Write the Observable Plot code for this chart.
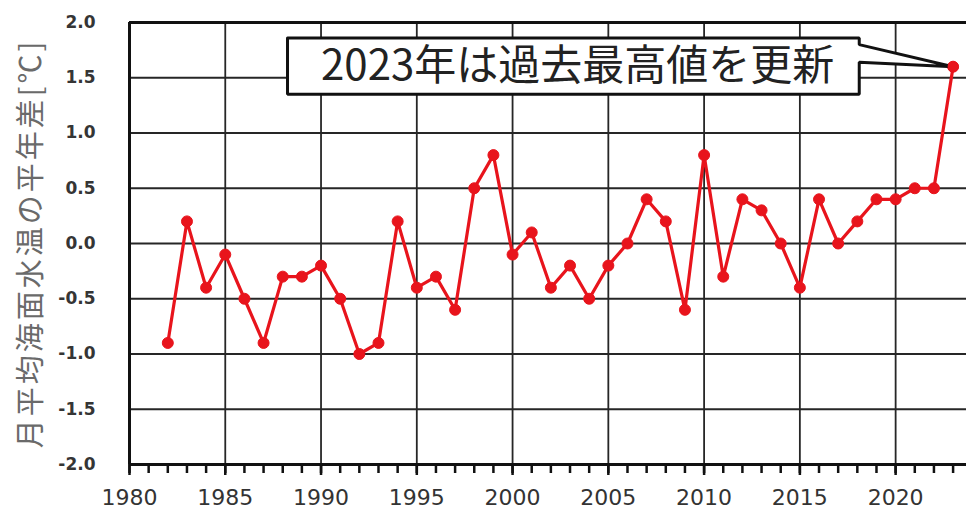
<!DOCTYPE html>
<html>
<head>
<meta charset="utf-8">
<script src="https://cdn.jsdelivr.net/npm/d3@7"></script>
<script src="https://cdn.jsdelivr.net/npm/@observablehq/plot@0.6"></script>
<style>
  html, body { margin: 0; padding: 0; background: #fff; }
</style>
</head>
<body>
<div id="chart"></div>
<script>
const years = [1982,1983,1984,1985,1986,1987,1988,1989,1990,1991,1992,1993,1994,1995,1996,1997,1998,1999,2000,2001,2002,2003,2004,2005,2006,2007,2008,2009,2010,2011,2012,2013,2014,2015,2016,2017,2018,2019,2020,2021,2022,2023];
const anomalies = [-0.9,0.2,-0.4,-0.1,-0.5,-0.9,-0.3,-0.3,-0.2,-0.5,-1.0,-0.9,0.2,-0.4,-0.3,-0.6,0.5,0.8,-0.1,0.1,-0.4,-0.2,-0.5,-0.2,0.0,0.4,0.2,-0.6,0.8,-0.3,0.4,0.3,0.0,-0.4,0.4,0.0,0.2,0.4,0.4,0.5,0.5,1.6];
const yTicks = [-2.0,-1.5,-1.0,-0.5,0.0,0.5,1.0,1.5,2.0];
const xTicks = [1980,1985,1990,1995,2000,2005,2010,2015,2020];
const minorTicks = d3.range(1980, 2024);
const yLabel = "月平均海面水温の平年差[℃]";
const calloutText = "2023年は過去最高値を更新";

const data = years.map((y, i) => ({year: y, value: anomalies[i]}));

// callout outline (annotation), in data units
const callout = [
  {x: 1988.25, y: 1.86}, {x: 2018.1, y: 1.86}, {x: 2018.1, y: 1.80},
  {x: 2023, y: 1.6},
  {x: 2018.1, y: 1.64}, {x: 2018.1, y: 1.35}, {x: 1988.25, y: 1.35}, {x: 1988.25, y: 1.86}
];

const red = "#e8141c";
const gridColor = "#262626";

const plot = Plot.plot({
  width: 966,
  height: 512,
  marginLeft: 129,
  marginRight: 0,
  marginTop: 22,
  marginBottom: 48,
  x: {domain: [1980, 2023.7]},
  y: {domain: [-2, 2]},
  style: {fontFamily: "DejaVu Sans, Verdana, sans-serif", background: "#fff", overflow: "hidden"},
  marks: [
    Plot.gridY(yTicks, {stroke: gridColor, strokeOpacity: 1, strokeWidth: 1.8}),
    Plot.gridX(xTicks, {stroke: gridColor, strokeOpacity: 1, strokeWidth: 1.8}),
    Plot.ruleX([1980], {stroke: "#111", strokeWidth: 3}),
    Plot.ruleY([2.0], {stroke: "#111", strokeWidth: 3}),
    Plot.ruleY([-2.0], {stroke: "#111", strokeWidth: 3}),
    Plot.axisY(yTicks, {
      tickSize: 0, tickPadding: 34, tickFormat: d => d.toFixed(1),
      fontSize: 17, fontWeight: "bold", fill: "#353535", label: null
    }),
    Plot.axisX(minorTicks, {tickSize: 9, tickFormat: () => "", strokeWidth: 2.5, stroke: "#111", label: null}),
    Plot.axisX(xTicks, {
      tickSize: 11, tickPadding: 14, strokeWidth: 2.5, stroke: "#111",
      tickFormat: d => String(d), fontSize: 22, fill: "#333", label: null
    }),
    Plot.text([yLabel], {
      frameAnchor: "left", textAnchor: "middle", rotate: -90, dx: -98, fontSize: 29,
      fill: "#6a6a6a", fontFamily: "Noto Sans CJK JP"
    }),
    Plot.line(data, {x: "year", y: "value", stroke: red, strokeWidth: 3.2}),
    Plot.dot(data, {x: "year", y: "value", r: 5.5, fill: red, stroke: red, strokeWidth: 1}),
    Plot.line(callout, {x: "x", y: "y", fill: "white", stroke: "#111", strokeWidth: 3, strokeLinejoin: "miter", curve: "linear"}),
    Plot.text([calloutText], {
      x: () => 2003.4, y: () => 1.605, fontSize: 42, fill: "#222",
      fontFamily: "Noto Sans CJK JP", textAnchor: "middle"
    }),
    Plot.dot([data[data.length - 1]], {x: "year", y: "value", r: 5.5, fill: red})
  ]
});
d3.select(plot).selectAll("text").filter(function() { return this.textContent === yLabel; })
  .attr("letter-spacing", "3px");
document.getElementById("chart").append(plot);
</script>
</body>
</html>
